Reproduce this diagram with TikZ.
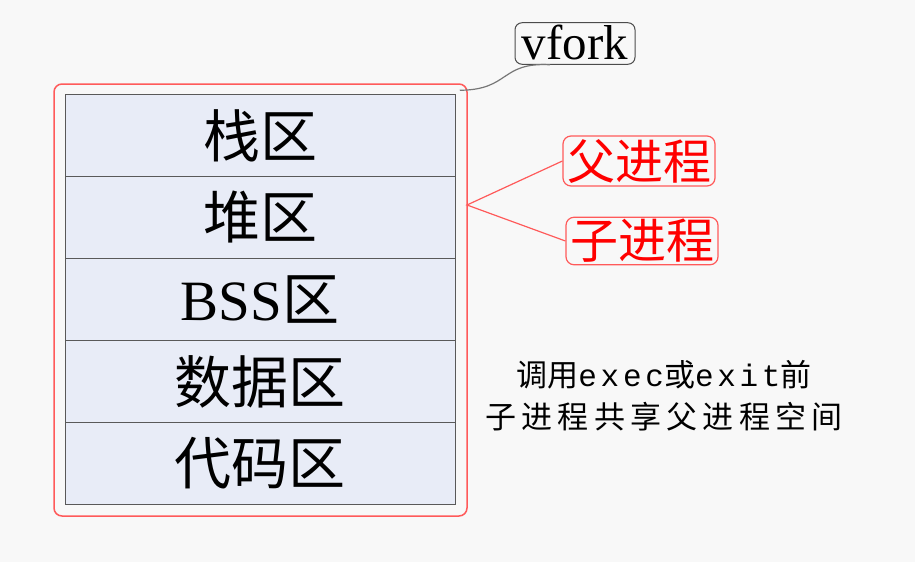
\documentclass[tikz,border=0pt]{standalone}
\usepackage{fontspec}
\setmainfont{Liberation Serif}
\newfontfamily\cjk{Noto Sans CJK SC}
\newfontfamily\cjkwide[LetterSpace=17]{Noto Sans CJK SC}
\newfontfamily\latwide[LetterSpace=12]{Liberation Mono}
\definecolor{bgc}{HTML}{F8F8F8}
\definecolor{cellc}{HTML}{E8ECF7}
\definecolor{redc}{HTML}{FF5A5A}
\definecolor{grayc}{HTML}{777777}
\tikzset{
  cell/.style={draw=black!65, line width=1pt, fill=cellc, minimum width=390pt, minimum height=82pt, inner sep=0pt, font=\fontsize{57}{62}\selectfont},
  redbox/.style={draw=redc, line width=1.2pt, rounded corners=8pt, text=red, inner sep=2pt, font=\cjk\fontsize{48}{52}\selectfont},
  graybox/.style={draw=black!70, line width=1pt, rounded corners=7pt, inner sep=2pt, font=\fontsize{49}{52}\selectfont},
}
\begin{document}
\begin{tikzpicture}[x=1pt,y=-1pt]
\fill[bgc] (0,0) rectangle (915,562);
\useasboundingbox (0,0) rectangle (915,562);
\node[draw=redc, line width=1.5pt, rounded corners=8pt, minimum width=413pt, minimum height=432pt, inner sep=0pt] (outer) at (260.5,300) {};
\node[cell] (c1) at (260,135.5) {\cjk 栈区};
\node[cell] (c2) at (260,217.5) {\cjk 堆区};
\node[cell] (c3) at (260,299.5) {BSS{\cjk 区}};
\node[cell] (c4) at (260,381.5) {\cjk 数据区};
\node[cell] (c5) at (260,463.5) {\cjk 代码区};
\node[graybox, minimum width=120pt, minimum height=39pt] (vf) at (575,43.5) {\raisebox{3pt}{vfork}};
\node[redbox, minimum width=152pt, minimum height=50pt] (fa) at (639,161) {父进程};
\node[redbox, minimum width=152pt, minimum height=47pt] (ch) at (642,241) {子进程};
\coordinate (br) at (467,205);
\draw[redc, line width=1.2pt] (fa.west) -- (br) -- (ch.west);
\draw[grayc, line width=1.2pt] (outer.north east) ++(-8,7) coordinate (vk) .. controls (510,90) and (500,62) .. ([xshift=-25pt]vf.south);
\node[align=center, font=\fontsize{31}{38}\selectfont] (note) at (664,396) {{\cjk 调用}{\latwide exec}{\cjk 或}{\latwide exit}{\cjk 前}\\[4pt]{\cjkwide 子进程共享父进程空间}};
\end{tikzpicture}
\end{document}
